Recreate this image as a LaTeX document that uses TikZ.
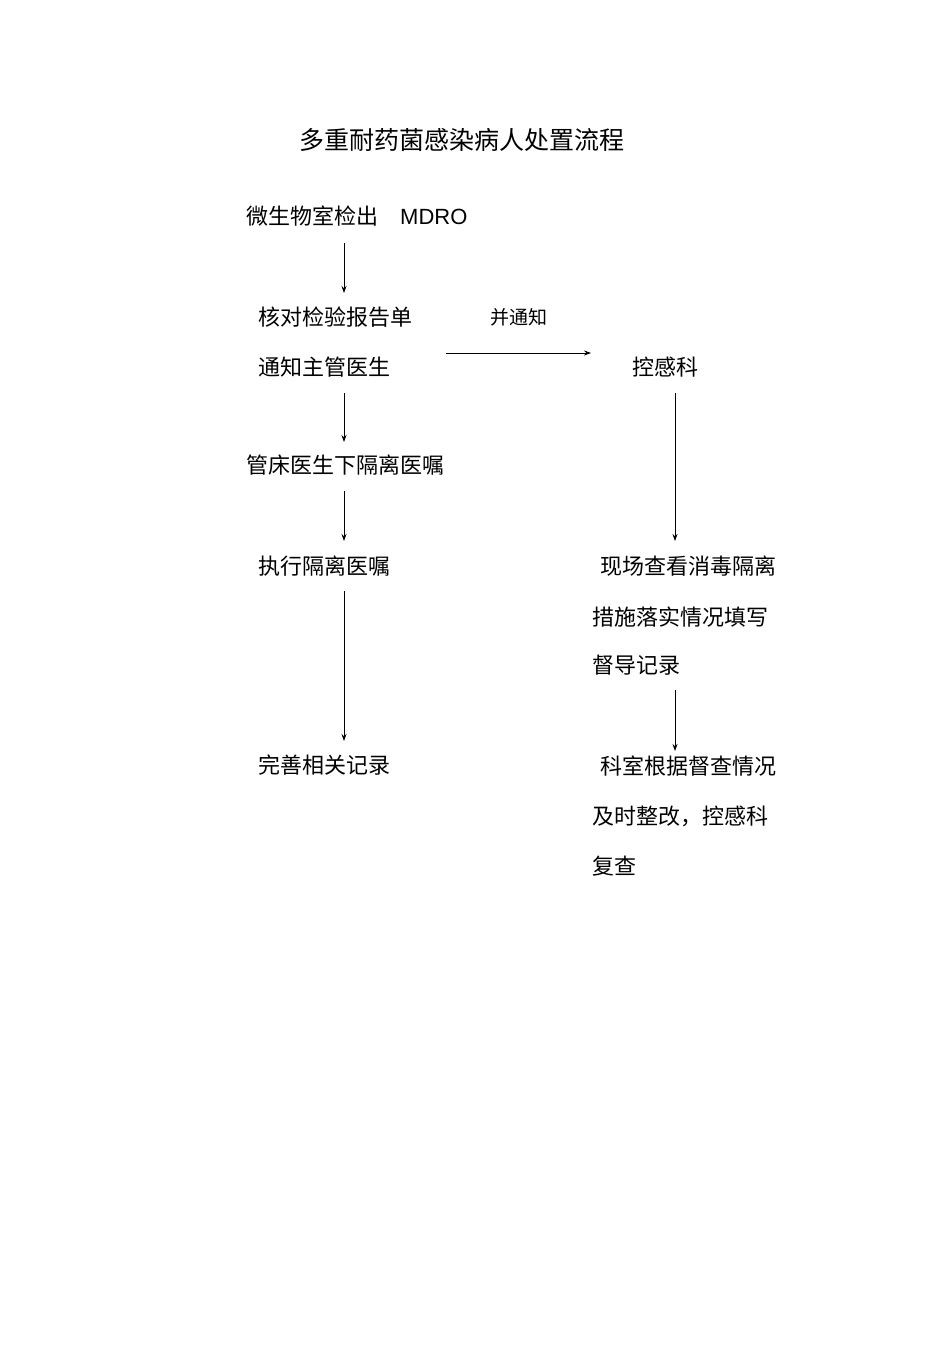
\documentclass[tikz,border=0pt]{standalone}
\usepackage{fontspec}
\usetikzlibrary{arrows.meta}
\newfontfamily\cjk{Noto Sans CJK SC}
\setsansfont{Liberation Sans}
\begin{document}
\begin{tikzpicture}[x=1pt,y=-1pt,
  txt/.style={anchor=west,inner sep=0pt,font=\cjk\fontsize{22}{26}\selectfont},
  arr/.style={-{Stealth[length=7pt,width=5pt]},line width=0.8pt}]
\useasboundingbox (0,0) rectangle (950,1345);
\node[anchor=center,inner sep=0pt,font=\cjk\fontsize{25}{30}\selectfont] (title) at (462,140) {多重耐药菌感染病人处置流程};
\node[txt] (a) at (246,216) {微生物室检出\hspace{22pt}{\sffamily MDRO}};
\node[txt] (b1) at (258,317) {核对检验报告单};
\node[txt,font=\cjk\fontsize{19}{22}\selectfont] (note) at (490,317) {并通知};
\node[txt] (b2) at (258,367) {通知主管医生};
\node[txt] (k) at (632,367) {控感科};
\node[txt] (c) at (246,465) {管床医生下隔离医嘱};
\node[txt] (d) at (258,566) {执行隔离医嘱};
\node[txt] (e) at (258,765) {完善相关记录};
\node[txt] (f1) at (600,566) {现场查看消毒隔离};
\node[txt] (f2) at (592,617) {措施落实情况填写};
\node[txt] (f3) at (592,665) {督导记录};
\node[txt] (g1) at (600,766) {科室根据督查情况};
\node[txt] (g2) at (592,816) {及时整改，控感科};
\node[txt] (g3) at (592,866) {复查};
\coordinate (p1) at (344,243); \coordinate (p2) at (344,293);
\coordinate (p3) at (344,393); \coordinate (p4) at (344,442);
\coordinate (p5) at (344,491); \coordinate (p6) at (344,541);
\coordinate (p7) at (344,591); \coordinate (p8) at (344,741);
\coordinate (h1) at (446,353); \coordinate (h2) at (591,353);
\coordinate (r1) at (675,393); \coordinate (r2) at (675,541);
\coordinate (r3) at (675,690); \coordinate (r4) at (675,751);
\draw[arr] (p1) -- (p2);
\draw[arr] (p3) -- (p4);
\draw[arr] (p5) -- (p6);
\draw[arr] (p7) -- (p8);
\draw[arr] (h1) -- (h2);
\draw[arr] (r1) -- (r2);
\draw[arr] (r3) -- (r4);
\end{tikzpicture}
\end{document}
